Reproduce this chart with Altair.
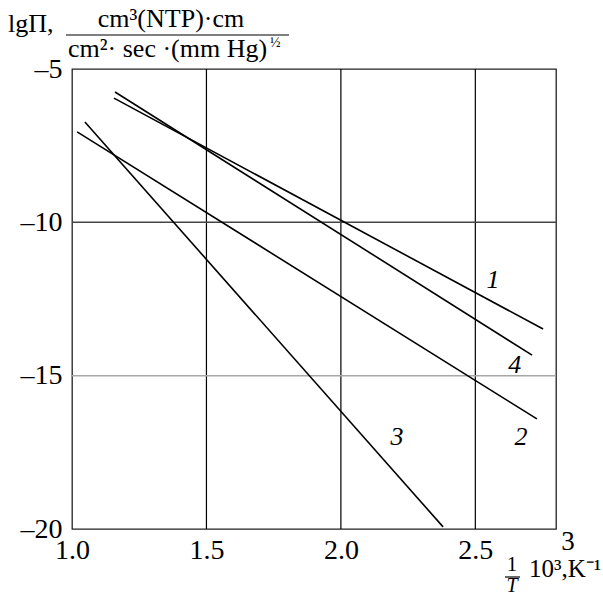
import altair as alt
import pandas as pd

SERIF = "Liberation Serif"

# Straight-line fits of lg(permeability) against 1000/T, one per membrane
curve_ids = ["1", "1", "4", "4", "2", "2", "3", "3"]
inv_t = [1.156, 2.752, 1.160, 2.711, 1.019, 2.729, 1.048, 2.380]
lg_p = [-5.95, -13.48, -5.75, -14.33, -7.05, -16.41, -6.73, -19.93]

# Curve number labels placed beside each line
label_text = ["1", "4", "2", "3"]
label_x = [2.566, 2.647, 2.670, 2.209]
label_y = [-11.88, -14.65, -17.0, -17.0]

# Axis ticks and grid lines
x_ticks = [1.0, 1.5, 2.0, 2.5]
y_ticks = [-5, -10, -15, -20]
x_grid = [1.5, 2.0, 2.5]
y_grid = [-10, -15]
y_grid_color = ["#444444", "#a8a8a8"]

lines_df = pd.DataFrame({"curve": curve_ids, "x": inv_t, "y": lg_p})
labels_df = pd.DataFrame({"t": label_text, "x": label_x, "y": label_y})
vgrid_df = pd.DataFrame({"x": x_grid})
hgrid_df = pd.DataFrame({"y": y_grid, "c": y_grid_color})

x_scale = alt.Scale(domain=[1.0, 2.8], nice=False, zero=False)
y_scale = alt.Scale(domain=[-20, -5], nice=False, zero=False)

x_axis = alt.Axis(values=x_ticks, format=".1f", grid=False, ticks=False,
                  domain=False, title=None, labelPadding=7, labelFlush=False)
y_axis = alt.Axis(values=y_ticks, grid=False, ticks=False, domain=False,
                  title=None, labelPadding=10, labelFlush=False,
                  labelExpr="'\u2013' + format(abs(datum.value), 'd')")

vgrid = alt.Chart(vgrid_df).mark_rule(color="black", strokeWidth=1.2).encode(
    x=alt.X("x:Q", scale=x_scale, axis=x_axis)
)
hgrid = alt.Chart(hgrid_df).mark_rule(strokeWidth=1.5).encode(
    y=alt.Y("y:Q", scale=y_scale, axis=y_axis),
    color=alt.Color("c:N", scale=None),
)

lines = alt.Chart(lines_df).mark_line(color="black", strokeWidth=1.6).encode(
    x=alt.X("x:Q", scale=x_scale, axis=x_axis),
    y=alt.Y("y:Q", scale=y_scale, axis=y_axis),
    detail="curve:N",
)

labels = alt.Chart(labels_df).mark_text(
    font=SERIF, fontSize=26, fontStyle="italic", color="black"
).encode(
    x=alt.X("x:Q", scale=x_scale, axis=x_axis),
    y=alt.Y("y:Q", scale=y_scale, axis=y_axis),
    text="t:N",
)


def note(text, x, y, size=26, align="left", baseline="alphabetic", style="normal"):
    return alt.Chart(pd.DataFrame({"t": [text]})).mark_text(
        font=SERIF, fontSize=size, align=align, baseline=baseline,
        fontStyle=style, color="black"
    ).encode(x=alt.value(x), y=alt.value(y), text="t:N")


def bar(x1, x2, y):
    return alt.Chart(pd.DataFrame({"a": [0]})).mark_rule(
        color="black", strokeWidth=1.2
    ).encode(x=alt.value(x1), x2=alt.value(x2), y=alt.value(y))


# y-axis quantity with its unit fraction above the plot
y_title = [
    note("lg\u03a0,", -64, -37, size=26),
    note("cm\u00b3(NTP)\u00b7cm", 99, -42, size=26, align="center"),
    bar(-6, 217, -34),
    note("cm\u00b2\u00b7 sec \u00b7(mm Hg)", -4, -12, size=26),
    note("\u00bd", 198, -22, size=14),
]

# x-axis quantity at the lower right corner
x_title = [
    note("3", 496, 473, size=27, align="center", baseline="middle"),
    note("1", 440, 496, size=21, align="center", baseline="middle"),
    bar(433, 448, 508),
    note("T", 440, 517, size=20, align="center", baseline="middle", style="italic"),
    note("10\u00b3,K\u207b\u00b9", 457, 508, size=25),
]

chart = alt.layer(vgrid, hgrid, lines, labels, *y_title, *x_title).properties(
    width=484,
    height=460,
    padding={"left": 72, "top": 69, "right": 47, "bottom": 66},
    autosize=alt.AutoSizeParams(type="none"),
).configure_view(
    stroke="#222222", strokeWidth=1.3
).configure_axis(
    labelFont=SERIF, labelFontSize=28, labelColor="black"
)

chart.save("out.html", embed_options={"renderer": "svg", "actions": False})
